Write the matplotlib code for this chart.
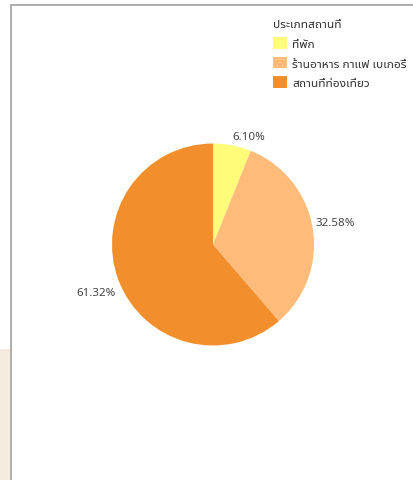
import numpy as np
import matplotlib
matplotlib.use("Agg")
import matplotlib.pyplot as plt
from matplotlib.patches import Rectangle

plt.rcParams['font.family'] = ['Noto Sans Thai UI', 'Noto Sans', 'DejaVu Sans']

# data
legend_title = "ประเภทสถานที่"
categories = ["ที่พัก", "ร้านอาหาร กาแฟ เบเกอรี่", "สถานที่ท่องเที่ยว"]
shares = [6.10, 32.58, 61.32]
colors = ["#fefc78", "#febb7a", "#f28f2c"]

W, H = 414, 481
fig = plt.figure(figsize=(W / 100, H / 100), dpi=100)

# screenshot frame + beige strip on the left
fig.add_artist(Rectangle((0, 0), 9.5 / W, 131 / H, transform=fig.transFigure,
                         facecolor="#f5ebdf", edgecolor="none", zorder=-5))
fig.add_artist(Rectangle((10.5 / W, -0.1), 1.2, (H - 5.5) / H + 0.1,
                         transform=fig.transFigure, facecolor="white",
                         edgecolor="#a0a0a0", linewidth=1.2, zorder=-5))

# pie axes: centre (213, 245) px, radius 101 px
cx, cy, r = 213, 245.5, 101
ax = fig.add_axes([(cx - r) / W, (H - cy - r) / H, 2 * r / W, 2 * r / H])
wedges, _ = ax.pie(shares, colors=colors, startangle=90, counterclock=False,
                   radius=1, wedgeprops=dict(linewidth=0))
ax.set_xlim(-1, 1)
ax.set_ylim(-1, 1)
ax.set_aspect("equal")
ax.axis("off")

for w, v in zip(wedges, shares):
    ang = np.deg2rad((w.theta1 + w.theta2) / 2)
    x, y = np.cos(ang) * 1.03, np.sin(ang) * 1.03
    ha = "left" if x > 0 else "right"
    va = "bottom" if y > 0 else "top"
    if x < 0:
        y -= 0.06
    ax.text(x, y, f"{v:.2f}%", ha=ha, va=va, fontsize=8.3, color="#444444",
            family=["Noto Sans", "DejaVu Sans"], clip_on=False)

leg = fig.legend(wedges, categories, title=legend_title, loc="upper left",
                 bbox_to_anchor=(265 / W, (H - 10) / H), frameon=False,
                 fontsize=8.6, title_fontsize=8.6, alignment="left",
                 handlelength=1.1, handleheight=1.15, handletextpad=0.5,
                 labelspacing=0.55, borderpad=0.2)
for t in leg.get_texts():
    t.set_color("#333333")
leg.get_title().set_color("#333333")

fig.savefig("out.png", dpi=100)
